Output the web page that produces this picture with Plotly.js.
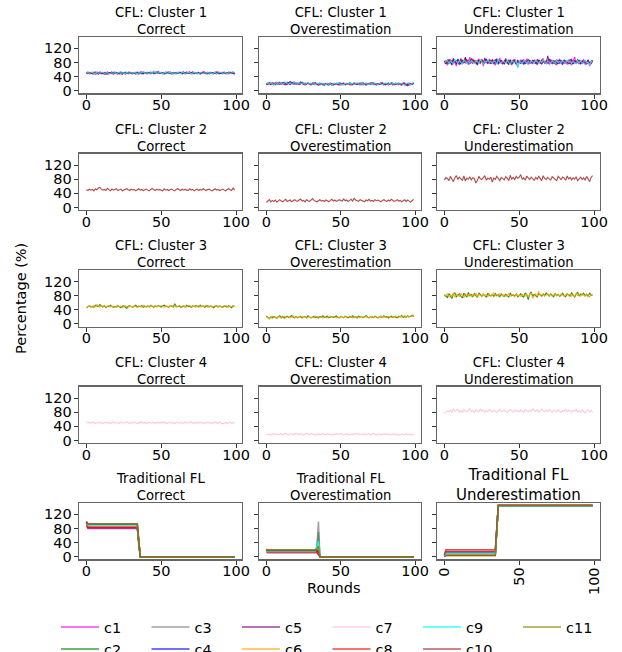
<!DOCTYPE html>
<html><head><meta charset="utf-8">
<script src="https://cdn.plot.ly/plotly-3.0.1.min.js"></script>
<style>html,body{margin:0;padding:0;background:#fff}#chart{width:622px;height:652px}</style>
</head><body><div id="chart"></div>
<script>
// ---------------- DATA ----------------
const clientNames = ['c1','c2','c3','c4','c5','c6','c7','c8','c9','c10','c11'];
const clientColors = ['#ff00ff','#008000','#808080','#0000ff','#800080','#ffa500','#ffc0cb','#ff0000','#00ffff','#a52a2a','#808000'];
const scenarioNames = ['Correct','Overestimation','Underestimation'];
const rowNames = ['CFL: Cluster 1','CFL: Cluster 2','CFL: Cluster 3','CFL: Cluster 4','Traditional FL'];
const yTickVals = [0,40,80,120];
const xTickVals = [0,50,100];
const rounds = Array.from({length:100},(_,i)=>i);

// Cluster 1 members
const cluster1Clients = ['c1','c4','c5','c8','c9'];
const cl1_c1_correct = [52,49,51,48,50,53,47,50,52,49, 48,51,50,46,49,52,50,48,51,53, 49,47,50,52,48,50,49,51,53,50, 48,52,49,47,51,50,54,49,48,50, 52,51,49,53,50,48,51,52,55,50, 49,51,48,50,53,49,51,50,48,52, 50,49,53,51,48,50,52,49,51,54, 50,48,51,49,52,50,47,51,53,49, 50,52,48,51,50,49,53,50,48,51, 52,49,50,48,51,53,50,49,52,48];
const cl1_c4_correct = [50,53,48,51,49,47,52,50,48,53, 51,49,47,52,50,48,51,53,49,50, 52,48,51,49,47,50,53,51,48,50, 49,51,52,48,50,47,51,53,49,52, 50,48,52,50,51,54,49,50,52,49, 51,50,48,53,49,52,50,47,51,50, 48,52,50,49,51,53,48,50,52,49, 51,53,49,50,48,52,51,49,50,53, 48,50,52,49,51,48,50,53,49,51, 50,48,52,51,49,50,53,51,50,47];
const cl1_c5_correct = [49,51,50,52,48,50,49,53,47,51, 50,48,52,50,47,51,49,50,52,48, 51,50,48,53,50,49,47,50,52,51, 49,48,51,50,53,49,51,48,50,52, 49,51,50,48,52,50,53,51,49,50, 52,48,50,51,49,53,50,48,52,50, 51,49,50,52,48,51,50,53,49,50, 48,51,52,50,49,51,48,50,52,51, 49,50,48,52,51,50,49,51,53,48, 50,52,49,51,50,48,51,52,53,49];
const cl1_c8_correct = [51,48,52,50,49,51,53,48,50,51, 49,52,48,50,53,49,51,50,47,52, 50,51,49,48,52,50,51,49,50,53, 51,49,50,52,48,51,50,49,53,50, 48,52,51,49,50,52,48,53,50,51, 49,50,52,48,51,50,53,49,51,48, 52,50,49,51,53,50,48,52,49,51, 50,52,48,51,50,49,52,50,53,49, 51,48,50,52,49,51,50,48,52,50, 49,51,53,50,48,52,50,51,49,50];
const cl1_c9_correct = [50,52,49,51,53,48,50,52,49,50, 51,53,49,50,52,47,50,51,49,52, 48,50,53,49,51,50,48,52,50,49, 51,50,52,49,48,51,50,52,54,49, 51,50,48,52,49,57,50,51,49,53, 50,48,51,52,49,50,53,48,51,50, 49,52,50,48,53,51,49,50,52,51, 48,50,53,49,51,48,52,50,49,51, 50,53,49,51,48,50,52,49,50,51, 53,49,50,52,48,51,49,50,54,51];

const cl1_c1_over = [18,22,20,17,23,19,21,24,18,20, 22,19,17,21,24,20,18,23,25,21, 19,22,18,20,24,21,17,19,22,20, 18,21,23,19,17,20,22,18,16,19, 21,18,17,20,16,19,18,21,17,20, 22,18,19,17,21,20,18,16,19,22, 20,18,21,17,19,22,18,20,17,21, 19,23,18,20,17,19,21,18,22,20, 17,19,21,18,20,16,19,22,18,20, 17,21,19,16,18,20,22,17,19,21];
const cl1_c4_over = [20,18,22,19,21,17,23,20,18,22, 19,21,24,20,18,22,26,21,19,23, 20,18,22,25,21,19,17,20,22,19, 21,18,20,22,19,17,21,20,18,16, 19,21,18,20,17,19,21,18,20,22, 19,17,20,18,21,19,22,20,18,19, 21,18,20,22,19,17,20,21,18,20, 22,19,18,21,20,17,19,22,20,18, 21,19,17,20,22,18,19,21,18,17, 20,19,22,18,16,19,17,20,18,21];
const cl1_c5_over = [17,20,22,18,21,19,17,22,20,18, 21,23,19,17,20,22,18,24,21,19, 22,20,17,19,23,21,18,20,22,19, 17,20,18,22,19,16,18,21,19,17, 20,18,16,19,21,17,18,20,19,16, 18,21,19,17,20,18,22,19,17,20, 18,21,19,17,22,20,18,16,19,21, 18,20,22,19,17,20,18,21,19,17, 20,18,22,19,21,17,20,18,19,22, 18,16,19,21,17,14,18,20,19,22];
const cl1_c8_over = [21,18,20,23,19,22,18,20,21,24, 19,22,20,18,23,21,19,22,20,24, 18,21,19,23,20,18,22,19,21,20, 17,22,19,21,18,20,17,19,21,18, 20,17,19,22,18,16,20,18,21,19, 17,20,22,18,19,21,17,20,18,22, 19,21,18,20,17,22,19,18,21,20, 18,22,19,17,20,21,18,19,22,20, 17,21,19,18,20,22,17,19,21,18, 20,17,19,22,18,20,17,19,21,20];
const cl1_c9_over = [19,21,18,22,20,17,21,23,19,20, 22,18,21,24,20,19,22,18,21,25, 20,18,23,19,21,22,18,20,24,19, 21,18,20,17,22,19,21,18,20,19, 17,21,18,20,16,19,21,18,22,20, 18,19,17,21,20,18,22,19,21,17, 20,23,19,18,21,17,20,22,18,19, 21,20,17,22,19,18,21,19,17,20, 22,19,18,21,17,20,19,22,18,20, 19,21,17,18,20,22,19,17,21,23];

const cl1_c1_under = [78,85,72,88,80,75,90,82,70,86, 79,92,76,84,81,88,73,95,80,77, 86,82,74,91,79,85,70,88,83,76, 90,81,78,87,72,85,80,93,77,82, 75,88,81,79,86,73,84,90,78,68, 82,87,76,83,79,91,74,85,80,77, 88,82,73,86,79,84,92,76,81,87, 74,89,80,78,85,72,83,90,77,82, 86,79,75,88,81,73,84,96,78,80, 85,76,82,89,74,81,87,70,79,84];
const cl1_c4_under = [82,76,88,79,84,73,86,81,77,90, 83,75,87,80,92,78,84,76,89,82, 79,86,73,85,81,88,77,83,90,79, 84,76,87,82,79,91,75,85,80,83, 77,86,82,74,88,80,79,85,76,83, 81,78,87,74,84,80,89,77,82,86, 79,84,76,88,81,75,86,80,83,78, 90,82,77,85,79,84,76,87,81,74, 86,80,83,77,89,82,76,85,79,88, 81,77,84,80,86,75,83,79,82,85];
const cl1_c5_under = [80,84,77,89,82,76,92,79,85,81, 74,88,83,78,95,80,86,77,84,90, 79,83,76,88,81,85,78,93,80,84, 77,86,82,75,89,80,84,79,87,76, 83,91,78,85,80,77,88,82,75,86, 81,79,84,88,76,83,80,87,78,85, 82,76,89,80,84,78,86,81,77,99, 83,79,85,80,76,88,82,78,85,81, 87,79,84,76,83,89,80,85,78,82, 86,80,77,84,81,79,88,76,83,86];
const cl1_c8_under = [85,79,83,76,88,82,78,86,80,84, 77,89,81,85,79,87,83,76,92,80, 84,78,86,81,77,88,82,79,85,80, 83,77,89,81,84,78,86,80,82,76, 85,80,78,87,82,76,84,81,79,86, 80,84,77,85,82,79,87,80,83,78, 86,81,79,84,77,88,82,80,85,78, 83,86,79,82,84,77,85,81,80,83, 78,85,82,80,76,86,83,79,84,81, 77,85,82,79,84,78,83,80,77,82];
const cl1_c9_under = [79,82,86,78,84,80,77,88,83,79, 85,81,76,87,82,79,84,78,86,81, 77,85,83,79,88,80,76,84,81,87, 80,83,78,85,82,76,88,81,79,84, 82,78,86,80,75,84,81,79,87,65, 83,80,78,86,82,79,84,77,85,81, 79,86,83,78,84,80,87,82,76,85, 81,79,84,82,78,86,80,83,79,85, 82,78,86,80,84,79,83,81,77,85, 80,84,78,82,86,79,81,72,84,80];

// Cluster 2 member: c10
const cl2_c10_correct = [50,48,52,49,51,47,53,50,55,57, 52,49,51,48,54,50,47,52,49,51, 53,48,50,52,47,49,51,53,50,48, 52,49,51,47,50,53,49,51,48,50, 52,49,47,51,54,50,48,52,49,51, 50,47,53,49,51,48,50,52,49,47, 51,53,50,48,52,49,51,50,48,53, 49,51,47,50,52,48,51,49,53,50, 48,51,52,49,47,50,53,49,51,48, 50,52,49,47,51,53,50,48,55,49];
const cl2_c10_over = [14,18,22,16,20,17,21,15,19,22, 18,16,20,23,17,19,21,16,18,22, 19,17,21,24,18,20,16,22,19,17, 21,25,20,18,16,19,22,18,20,17, 21,19,16,20,23,18,21,17,19,22, 20,18,24,19,21,17,20,23,18,26, 21,19,17,22,20,18,16,21,19,23, 18,20,17,22,19,21,18,16,20,22, 19,17,21,18,23,20,17,19,22,18, 20,16,19,22,17,21,18,15,19,23];
const cl2_c10_under = [78,85,82,76,88,80,73,84,90,79, 86,81,77,89,75,83,80,87,78,84, 82,69,76,88,81,79,85,90,77,83, 80,86,72,84,79,88,82,76,85,80, 78,87,83,76,91,80,85,79,88,82, 86,93,80,84,77,89,82,79,86,81, 77,85,80,88,83,76,90,82,79,85, 81,78,87,83,80,76,88,82,79,86, 83,77,89,81,85,78,84,80,87,76, 82,86,79,84,77,88,81,73,85,90];

// Cluster 3 members: c2, c6
const cl3_c2_correct = [46,49,52,48,50,47,53,51,49,55, 50,48,52,46,50,49,53,51,47,50, 48,52,49,46,50,51,48,44,50,52, 49,47,51,53,48,50,49,52,47,50, 48,51,49,53,50,47,51,49,52,50, 48,51,53,49,50,47,52,50,48,57, 50,49,52,47,50,51,48,53,49,50, 47,51,49,52,50,48,53,49,51,47, 50,52,48,51,49,46,50,52,48,51, 49,47,51,50,48,52,49,46,51,50];
const cl3_c6_correct = [45,48,51,50,47,52,49,55,50,48, 51,49,53,47,50,52,48,51,49,47, 50,53,48,51,46,50,52,49,47,51, 50,48,52,49,46,51,50,48,53,50, 49,51,47,52,50,49,53,48,51,50, 52,49,47,51,50,48,52,53,49,51, 48,50,52,49,47,51,50,48,52,53, 50,49,51,47,50,52,48,51,49,50, 53,48,50,51,47,49,52,50,48,51, 50,47,49,52,50,48,51,49,52,48];
const cl3_c2_over = [22,18,15,20,17,21,19,16,20,23, 18,21,17,19,22,18,20,24,19,17, 21,18,20,22,17,19,21,18,23,20, 17,19,22,18,20,17,21,19,23,18, 20,22,17,19,21,18,20,23,19,17, 21,19,18,22,20,17,21,19,23,18, 20,17,22,19,21,18,20,24,19,17, 21,20,18,22,19,17,21,20,18,23, 19,21,17,20,22,18,21,19,17,22, 20,24,18,21,19,23,20,22,25,21];
const cl3_c6_over = [20,17,14,19,22,18,20,17,21,19, 16,20,22,18,19,21,17,20,23,18, 20,17,21,19,22,18,20,16,19,21, 18,20,17,22,19,21,18,20,17,21, 19,17,20,22,18,21,19,17,20,18, 22,19,17,21,20,18,19,22,17,20, 18,21,19,17,22,20,18,21,19,17, 20,22,18,19,21,17,20,23,18,21, 19,17,22,20,18,21,19,23,20,18, 22,19,21,24,20,22,19,23,21,26];
const cl3_c2_under = [82,78,75,86,79,72,84,88,77,81, 85,79,74,87,81,76,89,80,83,77, 86,79,75,88,82,78,84,80,76,87, 81,79,84,78,86,80,83,77,85,80, 78,84,81,76,88,80,82,79,85,77, 81,86,79,76,88,83,69,85,91,78, 84,80,76,87,82,79,85,80,88,83, 79,85,81,77,86,80,84,78,82,87, 80,77,85,82,79,88,81,76,84,90, 79,85,82,87,80,84,78,88,81,83];
const cl3_c6_under = [84,80,86,76,82,79,88,75,84,81, 78,87,80,74,85,82,79,86,77,83, 80,88,76,84,81,78,86,80,83,77, 85,79,82,88,80,84,78,86,82,80, 84,78,80,86,79,83,81,77,85,80, 82,78,84,80,79,85,77,83,88,73, 81,85,79,92,80,83,84,79,81,86, 80,84,78,82,86,80,83,79,85,81, 78,83,86,80,84,79,82,77,88,81, 84,79,86,82,78,85,81,76,83,80];

// Cluster 4 member: c7
const cl4_c7_correct = [52,50,51,49,53,51,48,50,52,49, 51,48,50,52,49,51,48,50,53,49, 51,50,48,52,50,49,51,53,50,48, 51,49,52,50,48,51,50,53,49,51, 48,50,52,49,51,50,48,52,49,51, 50,53,49,51,48,50,52,49,51,48, 50,52,49,51,50,48,52,50,49,51, 53,50,48,51,50,49,52,50,48,51, 49,52,50,48,51,49,53,50,48,52, 50,47,49,51,48,50,52,49,51,48];
const cl4_c7_over = [16,18,17,15,19,17,20,16,18,17, 19,16,18,20,17,15,18,19,16,17, 20,18,16,19,17,15,18,20,17,16, 19,17,18,15,17,19,16,18,20,17, 16,18,19,17,15,18,16,19,17,18, 20,17,16,18,19,15,17,18,16,19, 17,20,18,16,17,19,15,18,17,19, 16,18,20,17,15,18,19,16,18,17, 19,16,18,15,17,19,16,18,17,14, 16,18,15,17,19,16,18,15,17,16];
const cl4_c7_under = [76,80,84,81,86,79,90,82,85,88, 80,84,79,87,83,81,86,90,82,85, 79,87,84,81,89,83,86,80,85,82, 88,83,80,86,82,79,85,88,81,84, 86,82,79,85,88,83,80,87,82,85, 81,86,83,79,88,84,81,86,83,90, 85,82,87,80,84,89,83,81,86,82, 88,84,80,86,83,81,87,84,79,85, 83,88,81,86,82,79,85,84,88,81, 84,80,86,82,78,84,87,81,85,80];

// Traditional FL (breakpoint rounds of the step-shaped curves)
const tradRoundsCorrect = [0,1,34,35,36,99];
const tradCorrect_c1  = [96,85,85,40,0,0];
const tradCorrect_c2  = [93,91,91,30,0,0];
const tradCorrect_c3  = [98,93,93,45,0,0];
const tradCorrect_c4  = [95,84,84,38,0,0];
const tradCorrect_c5  = [90,80,80,35,0,0];
const tradCorrect_c6  = [97,87,87,42,0,0];
const tradCorrect_c7  = [94,88,88,36,0,0];
const tradCorrect_c8  = [99,83,83,40,0,0];
const tradCorrect_c9  = [92,89,89,44,0,0];
const tradCorrect_c10 = [100,93,93,38,0,0];
const tradCorrect_c11 = [95,92,92,48,0,0];

const tradRoundsOver = [0,1,33,34,35,36,99];
const tradOver_c1  = [18,14,14,14,10,0,0];
const tradOver_c2  = [20,17,17,25,70,0,0];
const tradOver_c3  = [21,19,19,30,100,0,0];
const tradOver_c4  = [16,13,13,15,20,0,0];
const tradOver_c5  = [15,11,11,12,15,0,0];
const tradOver_c6  = [19,16,16,28,35,0,0];
const tradOver_c7  = [17,12,12,10,5,0,0];
const tradOver_c8  = [19,13,13,11,6,0,0];
const tradOver_c9  = [18,15,15,35,45,0,0];
const tradOver_c10 = [20,18,18,20,8,0,0];
const tradOver_c11 = [21,20,20,22,30,0,0];

const tradRoundsUnder = [0,1,34,35,36,99];
const tradUnder_c1  = [2,8,8,75,144,144];
const tradUnder_c2  = [1,5,5,70,145,145];
const tradUnder_c3  = [3,16,16,80,145,145];
const tradUnder_c4  = [0,4,4,72,144,144];
const tradUnder_c5  = [2,12,12,78,145,145];
const tradUnder_c6  = [1,6,6,74,144,144];
const tradUnder_c7  = [4,18,18,82,146,146];
const tradUnder_c8  = [3,14,14,76,145,145];
const tradUnder_c9  = [2,10,10,73,144,144];
const tradUnder_c10 = [5,20,20,85,146,146];
const tradUnder_c11 = [1,3,3,70,145,145];

// ---------------- BUILD ----------------
const FONT = 'DejaVu Sans, sans-serif';
const colorOf = n => clientColors[clientNames.indexOf(n)];

const cflRows = [
  [['c1',cl1_c1_correct,cl1_c1_over,cl1_c1_under],['c4',cl1_c4_correct,cl1_c4_over,cl1_c4_under],
   ['c5',cl1_c5_correct,cl1_c5_over,cl1_c5_under],['c8',cl1_c8_correct,cl1_c8_over,cl1_c8_under],
   ['c9',cl1_c9_correct,cl1_c9_over,cl1_c9_under]],
  [['c10',cl2_c10_correct,cl2_c10_over,cl2_c10_under]],
  [['c2',cl3_c2_correct,cl3_c2_over,cl3_c2_under],['c6',cl3_c6_correct,cl3_c6_over,cl3_c6_under]],
  [['c7',cl4_c7_correct,cl4_c7_over,cl4_c7_under]]
];
const tradSets = {
  c1:[tradCorrect_c1,tradOver_c1,tradUnder_c1], c2:[tradCorrect_c2,tradOver_c2,tradUnder_c2],
  c3:[tradCorrect_c3,tradOver_c3,tradUnder_c3], c4:[tradCorrect_c4,tradOver_c4,tradUnder_c4],
  c5:[tradCorrect_c5,tradOver_c5,tradUnder_c5], c6:[tradCorrect_c6,tradOver_c6,tradUnder_c6],
  c7:[tradCorrect_c7,tradOver_c7,tradUnder_c7], c8:[tradCorrect_c8,tradOver_c8,tradUnder_c8],
  c9:[tradCorrect_c9,tradOver_c9,tradUnder_c9], c10:[tradCorrect_c10,tradOver_c10,tradUnder_c10],
  c11:[tradCorrect_c11,tradOver_c11,tradUnder_c11]
};
const tradRounds = [tradRoundsCorrect,tradRoundsOver,tradRoundsUnder];

const W = 622, H = 652;
const colPx = [[79,242],[259,421],[437,600]];
const rowPx = [[37,93.3],[153.7,210],[270.2,326.5],[386.7,443],[503,559.3]];

function axName(r,c){ const i=r*3+c+1; return i===1?'':String(i); }

const traces = [];
for(let r=0;r<4;r++){
  for(let c=0;c<3;c++){
    const a = axName(r,c);
    cflRows[r].forEach(m=>{
      traces.push({type:'scatter',mode:'lines',x:rounds.slice(0,m[c+1].length),y:m[c+1],
        xaxis:'x'+a,yaxis:'y'+a,line:{color:colorOf(m[0]),width:1.1},opacity:0.85,
        showlegend:false,hoverinfo:'skip'});
    });
  }
}
const legendOf = n => (['c1','c3','c5','c7','c9'].includes(n)?'legend':(n==='c11'?'legend3':'legend2'));
for(let c=0;c<3;c++){
  const a = axName(4,c);
  clientNames.forEach(n=>{
    traces.push({type:'scatter',mode:'lines',x:tradRounds[c],y:tradSets[n][c],name:n,
      xaxis:'x'+a,yaxis:'y'+a,line:{color:colorOf(n),width:1.5},opacity:0.75,
      showlegend:c===0,legend:legendOf(n),hoverinfo:'skip'});
  });
}

const layout = {
  width:W,height:H,margin:{l:0,r:0,t:0,b:0,autoexpand:false},
  paper_bgcolor:'#fff',plot_bgcolor:'#fff',font:{family:FONT,size:14.5,color:'#000'},
  annotations:[],
};
const legendBase = {orientation:'h',xanchor:'left',yanchor:'middle',font:{family:FONT,size:14.5,color:'#000'},
  entrywidth:37.5,itemwidth:38,bgcolor:'rgba(0,0,0,0)',borderwidth:0,tracegroupgap:0};
layout.legend = Object.assign({},legendBase,{x:56/W,y:(H-627)/H});
layout.legend2 = Object.assign({},legendBase,{x:56/W,y:(H-649)/H});
layout.legend3 = Object.assign({},legendBase,{x:518/W,y:(H-627)/H});

for(let r=0;r<5;r++){
  for(let c=0;c<3;c++){
    const a = axName(r,c);
    const xd=[colPx[c][0]/W,colPx[c][1]/W], yd=[1-rowPx[r][1]/H,1-rowPx[r][0]/H];
    const ax = {domain:xd,anchor:'y'+a,range:[-4.95,103.95],tickvals:xTickVals,ticktext:xTickVals.map(String),
      showgrid:false,zeroline:false,showline:true,mirror:true,linecolor:'#666',linewidth:1.3,
      ticks:'outside',ticklen:4,tickwidth:1,tickcolor:'#333',ticklabelstandoff:-6,
      tickfont:{family:FONT,size:14.5,color:'#000'}};
    if(r===4&&c===2){ ax.tickangle=-90; ax.ticklabelstandoff=-3; }
    const ay = {domain:yd,anchor:'x'+a,range:[-7.25,152.25],tickvals:yTickVals,ticktext:yTickVals.map(String),
      showgrid:false,zeroline:false,showline:true,mirror:true,linecolor:'#666',linewidth:1.3,
      ticks:'outside',ticklen:4,tickwidth:1,tickcolor:'#333',showticklabels:c===0,ticklabelstandoff:-1,
      tickfont:{family:FONT,size:14.5,color:'#000'}};
    if(r===2&&c===0){
      ay.title={text:'Percentage (%)',standoff:14,font:{family:FONT,size:14.5,color:'#000'}};
    }
    layout['xaxis'+a]=ax; layout['yaxis'+a]=ay;
    const big = (r===4&&c===2);
    layout.annotations.push({xref:'paper',yref:'paper',x:(xd[0]+xd[1])/2,y:yd[1],xanchor:'center',yanchor:'bottom',
      yshift:big?-3:-2,showarrow:false,text:rowNames[r]+'<br>'+scenarioNames[c],
      font:{family:FONT,size:big?15:13.2,color:'#000'}});
  }
}
layout.annotations.push({xref:'paper',yref:'paper',x:333/W,y:1-588/H,showarrow:false,
  text:'Rounds',font:{family:FONT,size:14.5,color:'#000'},xanchor:'center',yanchor:'middle'});

Plotly.newPlot('chart',traces,layout,{staticPlot:true,displayModeBar:false});
</script>
</body></html>
